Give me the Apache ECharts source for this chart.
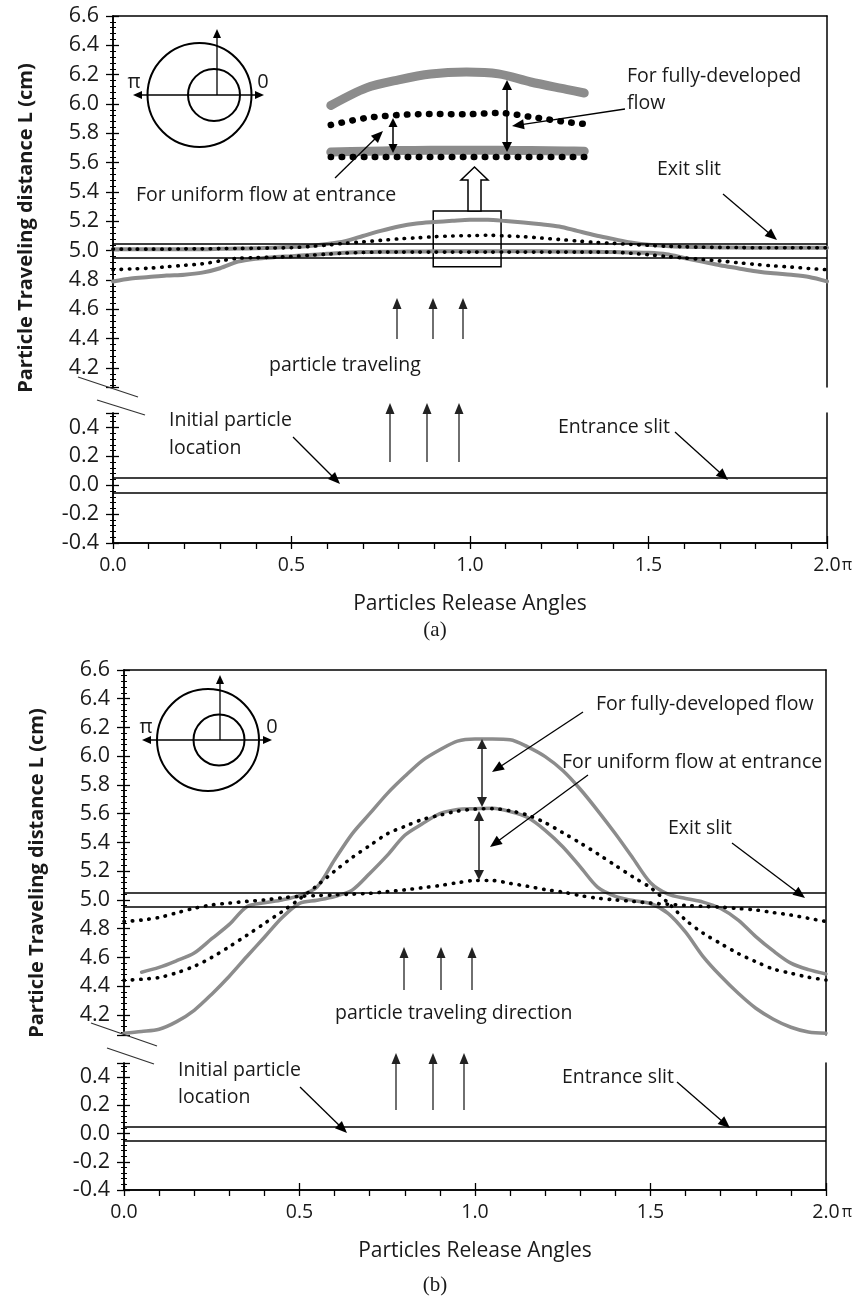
<!DOCTYPE html>
<html><head><meta charset="utf-8">
<script src="https://cdn.jsdelivr.net/npm/echarts@6/dist/echarts.min.js"></script>
<style>html,body{margin:0;padding:0;background:#fff}#c{width:857px;height:1300px}</style>
</head><body><div id="c"></div>
<script>
// ---------- DATA ----------
const angles = [0.00,0.05,0.10,0.15,0.20,0.25,0.30,0.35,0.40,0.45,0.50,0.55,0.60,0.65,0.70,0.75,0.80,0.85,0.90,0.95,1.00,1.05,1.10,1.15,1.20,1.25,1.30,1.35,1.40,1.45,1.50,1.55,1.60,1.65,1.70,1.75,1.80,1.85,1.90,1.95,2.00];

// panel (a)
const aGrayHi = [5.01,5.01,5.01,5.01,5.01,5.01,5.012,5.014,5.016,5.02,5.025,5.032,5.045,5.065,5.10,5.135,5.165,5.185,5.195,5.203,5.21,5.21,5.202,5.192,5.18,5.165,5.135,5.105,5.08,5.055,5.04,5.032,5.027,5.024,5.022,5.021,5.02,5.02,5.02,5.02,5.02];
const aDotHi  = [5.01,5.01,5.01,5.01,5.012,5.012,5.014,5.015,5.016,5.018,5.02,5.028,5.038,5.05,5.06,5.07,5.08,5.087,5.095,5.10,5.102,5.105,5.10,5.095,5.086,5.076,5.066,5.056,5.05,5.042,5.036,5.03,5.026,5.023,5.022,5.021,5.02,5.02,5.02,5.02,5.02];
const aDotLo  = [4.87,4.875,4.88,4.89,4.90,4.91,4.93,4.948,4.952,4.955,4.96,4.968,4.976,4.983,4.987,4.99,4.99,4.99,4.99,4.99,4.99,4.99,4.99,4.99,4.99,4.99,4.99,4.99,4.99,4.982,4.972,4.96,4.95,4.94,4.93,4.918,4.906,4.896,4.888,4.878,4.87];
const aGrayLo = [4.79,4.81,4.82,4.83,4.836,4.85,4.88,4.925,4.945,4.955,4.962,4.97,4.978,4.986,4.99,4.992,4.993,4.994,4.995,4.995,4.995,4.995,4.995,4.995,4.995,4.994,4.993,4.992,4.99,4.988,4.985,4.975,4.95,4.925,4.90,4.88,4.86,4.845,4.835,4.82,4.79];

// magnified inset of panel (a), read in the main axis units
const insetAngles = [0.61,0.71,0.80,0.89,0.99,1.08,1.17,1.27,1.32];
const insetGrayHi = [5.99,6.11,6.165,6.205,6.218,6.205,6.15,6.10,6.075];
const insetDotHi  = [5.857,5.905,5.925,5.932,5.930,5.939,5.912,5.877,5.864];
const insetGrayLo = [5.672,5.678,5.682,5.684,5.685,5.684,5.682,5.68,5.678];
const insetDotLo  = [5.639,5.639,5.639,5.639,5.639,5.639,5.639,5.639,5.639];

// panel (b)
const bGrayHi = [null,4.497,4.53,4.577,4.63,4.73,4.83,4.953,4.98,5.0,5.03,5.09,5.28,5.46,5.60,5.74,5.86,5.97,6.045,6.105,6.12,6.12,6.115,6.065,5.997,5.90,5.77,5.62,5.46,5.29,5.12,5.04,5.01,4.985,4.94,4.86,4.745,4.645,4.56,4.515,4.485];
const bGrayLo = [4.073,4.085,4.10,4.153,4.232,4.344,4.469,4.606,4.74,4.876,4.976,4.998,5.024,5.068,5.184,5.31,5.45,5.53,5.60,5.629,5.635,5.638,5.615,5.573,5.484,5.37,5.23,5.087,5.025,4.996,4.975,4.907,4.776,4.606,4.47,4.35,4.246,4.17,4.114,4.081,4.073];
const bDotHi  = [4.44,4.448,4.46,4.493,4.538,4.60,4.675,4.754,4.836,4.918,5.006,5.10,5.20,5.295,5.378,5.46,5.512,5.56,5.59,5.618,5.632,5.635,5.62,5.59,5.537,5.468,5.396,5.32,5.24,5.16,5.085,4.98,4.86,4.768,4.696,4.627,4.57,4.519,4.49,4.462,4.443];
const bDotLo  = [4.85,4.86,4.878,4.91,4.942,4.965,4.978,4.99,5.0,5.015,5.025,5.03,5.035,5.04,5.046,5.058,5.07,5.085,5.10,5.12,5.135,5.135,5.115,5.095,5.072,5.055,5.03,5.012,5.0,4.99,4.978,4.97,4.962,4.955,4.95,4.94,4.93,4.912,4.895,4.872,4.85];

const exitSlit = [4.95, 5.05];
const entranceSlit = [-0.05, 0.05];
const zoomBox = {x: [0.897, 1.087], y: [4.89, 5.27]};
const xTickLabels = ['0.0','0.5','1.0','1.5','2.0'];
const yUpperTickLabels = ['4.2','4.4','4.6','4.8','5.0','5.2','5.4','5.6','5.8','6.0','6.2','6.4','6.6'];
const yLowerTickLabels = ['-0.4','-0.2','0.0','0.2','0.4'];

// ---------- STYLE ----------
const FONT = "'Open Sans', 'Noto Sans', sans-serif";
const INK = '#1a1a1a';
const GRAY = '#8c8c8c';
const ANN = 19.5;

function pairs(xs, ys){ const out=[]; xs.forEach((x,i)=>{ if(ys[i]!=null) out.push([x, ys[i]]); }); return out; }
function grayLine(name, xs, ys, xi, yi, width){
  return {type:'line', name, xAxisIndex:xi, yAxisIndex:yi, data:pairs(xs,ys), smooth:0.3, symbol:'none', silent:true,
    lineStyle:{color:GRAY, width:width, cap:'round', join:'round'}, z:2};
}
function dotLine(name, xs, ys, xi, yi, width, gap){
  return {type:'line', name, xAxisIndex:xi, yAxisIndex:yi, data:pairs(xs,ys), smooth:0.3, symbol:'none', silent:true,
    lineStyle:{color:'#000', width:width, type:[0.5, gap], cap:'round'}, z:3};
}
function slitLines(vals){
  return {silent:true, symbol:['none','none'], label:{show:false}, lineStyle:{color:'#000', width:1.5, type:'solid'},
    data: vals.map(v=>({yAxis:v}))};
}
const fmtX = v => { const s=v.toFixed(1); return xTickLabels.indexOf(s)>=0 && Math.abs(v*2-Math.round(v*2))<1e-6 ? s : ''; };
const fmtYU = v => { const s=v.toFixed(1); return Math.abs(v*5-Math.round(v*5))<1e-6 && yUpperTickLabels.indexOf(s)>=0 ? s : ''; };
const fmtYL = v => { const s=(Math.abs(v)<1e-9?0:v).toFixed(1); return Math.abs(v*5-Math.round(v*5))<1e-6 && yLowerTickLabels.indexOf(s)>=0 ? s : ''; };

const axisLineS = {show:true, onZero:false, lineStyle:{color:'#000', width:1.5}};
function topX(g){ return {gridIndex:g, type:'value', min:0, max:2, position:'top', axisLine:axisLineS, axisTick:{show:false}, axisLabel:{show:false}, splitLine:{show:false}}; }
function bottomX(g){ return {gridIndex:g, type:'value', min:0, max:2, interval:0.1, position:'bottom', axisLine:axisLineS,
  axisTick:{show:true, inside:false, length:6, lineStyle:{color:'#000', width:1.3}},
  axisLabel:{show:true, formatter:fmtX, margin:12, fontSize:19.5, color:INK, fontFamily:FONT},
  splitLine:{show:false}, name:'Particles Release Angles', nameLocation:'middle', nameGap:51,
  nameTextStyle:{fontSize:21, color:INK, fontFamily:FONT}}; }
function bottomXMajor(g){ return {gridIndex:g, type:'value', min:0, max:2, interval:0.5, position:'bottom', axisLine:axisLineS,
  axisTick:{show:true, inside:true, length:7, lineStyle:{color:'#000', width:1.3}}, axisLabel:{show:false}, splitLine:{show:false}}; }
function leftY(g, min, max, extra, fmt){ return Object.assign({gridIndex:g, type:'value', min, max, position:'left', axisLine:axisLineS,
  axisTick:{show:true, inside:false, length:7, lineStyle:{color:'#000', width:1.3}},
  minorTick:{show:true, splitNumber:5, length:3, lineStyle:{color:'#000', width:1}},
  axisLabel:{show:true, formatter:fmt, margin:14, fontSize:21.5, color:INK, fontFamily:FONT},
  splitLine:{show:false}, minorSplitLine:{show:false}}, extra); }
function leftYIn(g, min, max, extra){ return Object.assign({gridIndex:g, type:'value', min, max, position:'left', axisLine:axisLineS,
  axisTick:{show:true, inside:true, length:6, lineStyle:{color:'#000', width:1.3}},
  minorTick:{show:true, splitNumber:5, length:3, lineStyle:{color:'#000', width:1}},
  axisLabel:{show:false}, splitLine:{show:false}}, extra); }
function rightY(g, min, max){ return {gridIndex:g, type:'value', min, max, position:'right', axisLine:axisLineS, axisTick:{show:false}, axisLabel:{show:false}, splitLine:{show:false}}; }

// ---------- annotation helpers ----------
function arrowEls(x1,y1,x2,y2,o){
  o=o||{}; const L=o.head||11, W=o.hw||4.5, col=o.color||'#000', lw=o.lw||1.3;
  const dx=x2-x1, dy=y2-y1, len=Math.hypot(dx,dy), ux=dx/len, uy=dy/len, px=-uy, py=ux;
  const head=(tx,ty,sx,sy)=>({type:'polygon', z:100, silent:true, shape:{points:[[tx,ty],[tx-sx*L+px*W, ty-sy*L+py*W],[tx-sx*L-px*W, ty-sy*L-py*W]]}, style:{fill:col}});
  const sx = o.both ? x1+ux*L*0.8 : x1, sy = o.both ? y1+uy*L*0.8 : y1;
  const els=[{type:'line', z:100, silent:true, shape:{x1:sx, y1:sy, x2:x2-ux*L*0.8, y2:y2-uy*L*0.8}, style:{stroke:col, lineWidth:lw}}, head(x2,y2,ux,uy)];
  if(o.both) els.push(head(x1,y1,-ux,-uy));
  return els;
}
function txt(s,x,y,o){ o=o||{}; const al=o.align||'left';
  return {type:'text', x, y, rotation:o.rot||0, z:100, silent:true,
    style:{text:s, x:0, y:0, fill:o.color||INK, font:(o.weight||'normal')+' '+(o.size||ANN)+'px '+(o.family||FONT),
      textAlign:al, textVerticalAlign:'middle', align:al, verticalAlign:'middle'}}; }
function line(x1,y1,x2,y2,col,lw){ return {type:'line', z:100, silent:true, shape:{x1,y1,x2,y2}, style:{stroke:col||'#333', lineWidth:lw||1.3}}; }
function circle(cx,cy,r){ return {type:'circle', z:100, silent:true, shape:{cx,cy,r}, style:{fill:'none', stroke:'#000', lineWidth:2}}; }
function pipeDiagram(ocx,ocy,orr,icx,icy,ir,hx1,hx2,vx,vtop,piX,zeroX,labY){
  return [circle(ocx,ocy,orr), circle(icx,icy,ir),
    ...arrowEls(hx1,ocy,hx2,ocy,{both:true,head:9,hw:4}),
    ...arrowEls(vx,ocy,vx,vtop,{head:9,hw:4}),
    txt('π',piX,labY,{size:20,align:'center'}), txt('0',zeroX,labY,{size:20,align:'center'})];
}

const graphics = [
  // ----- panel (a) -----
  txt('Particle Traveling distance L (cm)', 26, 228, {rot:Math.PI/2, weight:'bold', size:20, align:'center'}),
  ...pipeDiagram(199.5,95,52, 214,95,26, 133,264, 217,29, 134,263,82),
  {type:'polygon', z:100, silent:true, shape:{points:[[468,211],[468,180],[461,180],[474.5,167],[488,180],[481,180],[481,211]]}, style:{fill:'#fff', stroke:'#000', lineWidth:1.5}},
  ...arrowEls(393,118,393,153,{both:true,head:9,hw:4.5,lw:1.5}),
  ...arrowEls(507,80,507,152,{both:true,head:10,hw:5,lw:1.5}),
  txt('For uniform flow at entrance',136,195),
  ...arrowEls(335,178,383,131,{head:12,hw:5}),
  txt('For fully-developed',627,76), txt('flow',627,103),
  ...arrowEls(625,109,512,126,{head:12,hw:5}),
  txt('Exit slit',657,169),
  ...arrowEls(723,194,777,240,{head:12,hw:5}),
  ...arrowEls(397,339,397,298,{head:11,hw:4.5,color:'#222'}),
  ...arrowEls(433,339,433,298,{head:11,hw:4.5,color:'#222'}),
  ...arrowEls(463,339,463,298,{head:11,hw:4.5,color:'#222'}),
  txt('particle traveling',269,365),
  line(78,377,138,397), line(97,400,145,415),
  ...arrowEls(390,462,390,403,{head:11,hw:4.5,color:'#222'}),
  ...arrowEls(427,462,427,403,{head:11,hw:4.5,color:'#222'}),
  ...arrowEls(459,462,459,403,{head:11,hw:4.5,color:'#222'}),
  txt('Initial particle',169,420), txt('location',169,448),
  ...arrowEls(293,437,340,484,{head:12,hw:5}),
  txt('Entrance slit',558,427),
  ...arrowEls(675,432,728,480,{head:12,hw:5}),
  txt('π',847,565,{size:16,align:'center'}),
  txt('(a)',435,630,{size:21,align:'center',family:"'Liberation Serif', 'Times New Roman', serif"}),
  // ----- panel (b) -----
  txt('Particle Traveling distance L (cm)', 37, 873, {rot:Math.PI/2, weight:'bold', size:20, align:'center'}),
  ...pipeDiagram(208,740,51, 219,740,25.5, 142,272, 220,675, 146,272,727),
  txt('For fully-developed flow',596,704),
  ...arrowEls(583,712,492,772,{head:12,hw:5}),
  txt('For uniform flow at entrance',562,762),
  ...arrowEls(588,775,490,847,{head:12,hw:5}),
  ...arrowEls(482,739,482,807,{both:true,head:10,hw:5,lw:1.5,color:'#222'}),
  ...arrowEls(479,811,479,880,{both:true,head:10,hw:5,lw:1.5,color:'#222'}),
  txt('Exit slit',668,828),
  ...arrowEls(732,843,805,898,{head:12,hw:5}),
  ...arrowEls(404,990,404,947,{head:11,hw:4.5,color:'#222'}),
  ...arrowEls(441,990,441,947,{head:11,hw:4.5,color:'#222'}),
  ...arrowEls(472,990,472,947,{head:11,hw:4.5,color:'#222'}),
  txt('particle traveling direction',335,1013),
  line(91,1023,157,1046), line(107,1048,154,1064),
  ...arrowEls(396,1110,396,1053,{head:11,hw:4.5,color:'#222'}),
  ...arrowEls(433,1110,433,1053,{head:11,hw:4.5,color:'#222'}),
  ...arrowEls(464,1110,464,1053,{head:11,hw:4.5,color:'#222'}),
  txt('Initial particle',178,1070), txt('location',178,1097),
  ...arrowEls(300,1087,347,1133,{head:12,hw:5}),
  txt('Entrance slit',562,1077),
  ...arrowEls(677,1082,730,1128,{head:12,hw:5}),
  txt('π',847,1212,{size:16,align:'center'}),
  txt('(b)',435,1285,{size:21,align:'center',family:"'Liberation Serif', 'Times New Roman', serif"})
];

const option = {
  animation:false,
  backgroundColor:'#fff',
  grid:[
    {left:113, top:16, width:714, height:371},
    {left:113, top:413, width:714, height:130},
    {left:124, top:670, width:702, height:365},
    {left:124, top:1063, width:702, height:127}
  ],
  xAxis:[ topX(0), bottomX(1), bottomXMajor(1), topX(2), bottomX(3), bottomXMajor(3) ],
  yAxis:[
    leftY(0, 4.07, 6.6, {splitNumber:13}, fmtYU), leftYIn(0, 4.07, 6.6, {splitNumber:13}), rightY(0, 4.07, 6.6),
    leftY(1, -0.4, 0.5, {interval:0.2}, fmtYL), leftYIn(1, -0.4, 0.5, {interval:0.2}), rightY(1, -0.4, 0.5),
    leftY(2, 4.06, 6.6, {splitNumber:13}, fmtYU), leftYIn(2, 4.06, 6.6, {splitNumber:13}), rightY(2, 4.06, 6.6),
    leftY(3, -0.4, 0.5, {interval:0.2}, fmtYL), leftYIn(3, -0.4, 0.5, {interval:0.2}), rightY(3, -0.4, 0.5)
  ],
  series:[
    // panel (a) main curves
    Object.assign(grayLine('a fully-developed upper', angles, aGrayHi, 0, 0, 4), {
      markLine: slitLines(exitSlit),
      markArea:{silent:true, itemStyle:{color:'rgba(0,0,0,0)', borderColor:'#000', borderWidth:1.5},
        data:[[{xAxis:zoomBox.x[0], yAxis:zoomBox.y[1]},{xAxis:zoomBox.x[1], yAxis:zoomBox.y[0]}]]}
    }),
    grayLine('a fully-developed lower', angles, aGrayLo, 0, 0, 4),
    dotLine('a uniform upper', angles, aDotHi, 0, 0, 3.6, 7.6),
    dotLine('a uniform lower', angles, aDotLo, 0, 0, 3.6, 7.6),
    // panel (a) magnified inset
    grayLine('inset fully-developed upper', insetAngles, insetGrayHi, 0, 0, 9),
    grayLine('inset fully-developed lower', insetAngles, insetGrayLo, 0, 0, 9),
    dotLine('inset uniform upper', insetAngles, insetDotHi, 0, 0, 6.5, 10.5),
    dotLine('inset uniform lower', insetAngles, insetDotLo, 0, 0, 6.5, 10.5),
    // panel (a) entrance slit
    {type:'line', name:'a entrance slit', xAxisIndex:1, yAxisIndex:3, data:[], symbol:'none', markLine: slitLines(entranceSlit)},
    // panel (b)
    Object.assign(grayLine('b fully-developed upper', angles, bGrayHi, 3, 6, 3.5), {markLine: slitLines(exitSlit)}),
    grayLine('b fully-developed lower', angles, bGrayLo, 3, 6, 3.5),
    dotLine('b uniform upper', angles, bDotHi, 3, 6, 3.6, 7.8),
    dotLine('b uniform lower', angles, bDotLo, 3, 6, 3.6, 7.8),
    {type:'line', name:'b entrance slit', xAxisIndex:4, yAxisIndex:9, data:[], symbol:'none', markLine: slitLines(entranceSlit)}
  ],
  graphic: graphics
};
const chart = echarts.init(document.getElementById('c'));
chart.setOption(option);
</script>
</body></html>
